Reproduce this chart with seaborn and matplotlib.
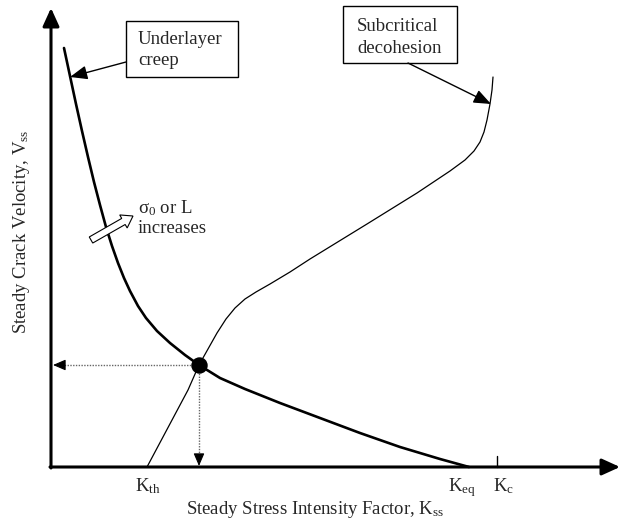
import matplotlib
matplotlib.use("Agg")
import matplotlib.pyplot as plt
from matplotlib.patches import Rectangle, FancyArrow
import seaborn as sns

"""
Schematic of steady crack velocity vs steady stress intensity factor.
Underlayer creep curve falls with K, subcritical decohesion curve rises,
the steady state sits where they cross.
Coordinates are in picture pixels (x to the right, y downwards).
"""

# underlayer creep curve (thick)
creep_x = [64, 70, 76, 82, 88, 94, 100, 106, 112, 118, 124, 130, 138, 146,
           157, 170, 185, 199, 220, 245, 280, 320, 360, 400, 440, 469]
creep_y = [48, 76, 104, 131, 157, 182, 205, 227, 246, 263, 278, 291, 306, 318,
           331, 343, 355, 365, 378, 389, 403, 418, 433, 447, 459, 467]

# subcritical decohesion curve (thin)
decoh_x = [147, 188, 199, 208, 217, 226, 235, 245, 256, 270, 290, 310, 367,
           417, 450, 465, 474, 480, 484, 487, 490, 492, 493]
decoh_y = [467, 390, 365, 349, 333, 319, 308, 299, 292, 284, 272, 259, 224,
           193, 171, 160, 151, 142, 132, 120, 104, 90, 77]

# steady state operating point
op_x, op_y = 199, 365

# x-axis marks
k_names = [r"K$_{\rm th}$", r"K$_{\rm eq}$", r"K$_{\rm c}$"]
k_pos = [148, 462, 504]
k_tick = 497

x_title = r"Steady Stress Intensity Factor, K$_{\rm ss}$"
y_title = r"Steady Crack Velocity, V$_{\rm ss}$"
creep_note = ["Underlayer", "creep"]
decoh_note = ["Subcritical", "decohesion"]
trend_note = ["σ$_0$ or L", "increases"]

origin_x, origin_y = 51, 467

sns.set_theme(style="white")
plt.rcParams["font.family"] = ["Liberation Serif", "DejaVu Serif"]
plt.rcParams["mathtext.fontset"] = "custom"
plt.rcParams["mathtext.rm"] = "Liberation Serif"
plt.rcParams["mathtext.it"] = "Liberation Serif:italic"
FS = 13.5

fig = plt.figure(figsize=(6.23, 5.25), dpi=100)
ax = fig.add_axes([0, 0, 1, 1])

sns.lineplot(x=creep_x, y=creep_y, sort=False, estimator=None,
             color="black", lw=1.9, ax=ax)
sns.lineplot(x=decoh_x, y=decoh_y, sort=False, estimator=None,
             color="black", lw=0.9, ax=ax)
sns.scatterplot(x=[op_x], y=[op_y], s=140, color="black", linewidth=0,
                zorder=5, ax=ax)

ax.set_xlim(0, 623)
ax.set_ylim(525, 0)
ax.axis("off")

# axes with arrow heads
axis_arrow = dict(arrowstyle="-|>,head_length=0.55,head_width=0.25",
                  lw=2.2, color="black", shrinkA=0, shrinkB=0, mutation_scale=20)
ax.annotate("", xy=(origin_x, 8), xytext=(origin_x, origin_y + 1),
            arrowprops=axis_arrow)
ax.annotate("", xy=(620, origin_y), xytext=(origin_x - 1, origin_y),
            arrowprops=axis_arrow)

# dotted projections of the operating point
dot_style = dict(ls=(0, (1, 1)), color="#666666", lw=1)
ax.plot([op_x, 62], [op_y, op_y], **dot_style)
ax.plot([op_x, op_x], [op_y, origin_y - 10], **dot_style)
small_head = dict(arrowstyle="-|>,head_length=0.7,head_width=0.3", lw=0.8,
                  color="black", shrinkA=0, shrinkB=0, mutation_scale=11)
ax.annotate("", xy=(53, op_y), xytext=(64, op_y), arrowprops=small_head)
ax.annotate("", xy=(op_x, origin_y - 1), xytext=(op_x, origin_y - 12),
            arrowprops=small_head)

# Kc tick
ax.plot([k_tick, k_tick], [456, origin_y], color="black", lw=1)

for name, xp in zip(k_names, k_pos):
    ax.text(xp, 491, name, ha="center", va="baseline", fontsize=FS)

ax.text(315, 514, x_title, ha="center", va="baseline", fontsize=FS)
ax.text(22, 232, y_title, ha="center", va="center", rotation=90, fontsize=FS)

# note boxes with pointer arrows
note_arrow = dict(arrowstyle="-|>,head_length=0.75,head_width=0.3", lw=1,
                  color="black", shrinkA=0, shrinkB=0, mutation_scale=14)
ax.add_patch(Rectangle((126, 21), 112, 56, fill=False, ec="black", lw=1))
ax.text(138, 44, creep_note[0], ha="left", va="baseline", fontsize=FS)
ax.text(138, 65, creep_note[1], ha="left", va="baseline", fontsize=FS)
ax.annotate("", xy=(70, 77), xytext=(126, 62), arrowprops=note_arrow)

ax.add_patch(Rectangle((343, 6), 114, 57, fill=False, ec="black", lw=1))
ax.text(357, 31, decoh_note[0], ha="left", va="baseline", fontsize=FS)
ax.text(357, 53, decoh_note[1], ha="left", va="baseline", fontsize=FS)
ax.annotate("", xy=(491, 104), xytext=(408, 63), arrowprops=note_arrow)

# hollow "increases" arrow
ax.add_patch(FancyArrow(91, 240, 42, -24, width=7, head_width=15,
                        head_length=11, length_includes_head=True,
                        fc="white", ec="black", lw=0.8, zorder=4))
ax.text(138, 213, trend_note[0], ha="left", va="baseline", fontsize=FS)
ax.text(138, 233, trend_note[1], ha="left", va="baseline", fontsize=FS)

fig.savefig("out.png", dpi=100)
